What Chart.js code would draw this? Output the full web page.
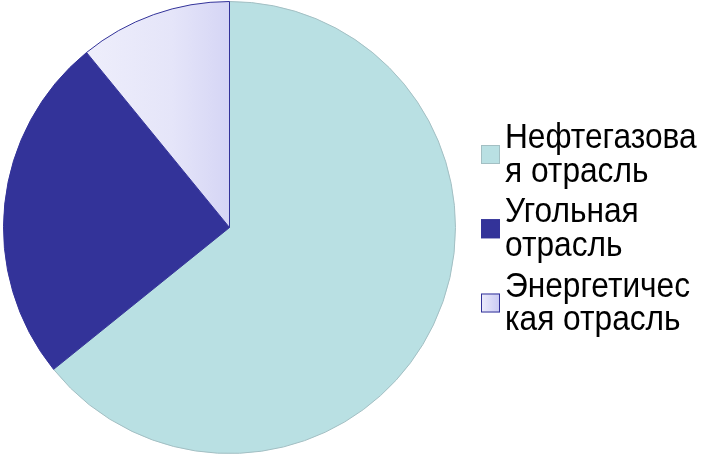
<!DOCTYPE html>
<html>
<head>
<meta charset="utf-8">
<script src="https://cdn.jsdelivr.net/npm/chart.js@4"></script>
<style>
  html, body { margin: 0; padding: 0; background: #fff; }
  #wrap { width: 704px; height: 454px; position: relative; }
</style>
</head>
<body>
<div id="wrap"><canvas id="pie"></canvas></div>
<script>
// sector labels (already wrapped as in the original legend)
const labels = [
  ['Нефтегазова', 'я отрасль'],
  ['Угольная', 'отрасль'],
  ['Энергетичес', 'кая отрасль'],
];
const shares = [64.2, 24.9, 10.9];
const fills = ['#b9e0e3', '#333399', '#e2e2f9'];
const edges = ['#a3bfc3', '#333399', '#333399'];

// lavender slice has a soft left-to-right gradient
function sliceFill(ctx) {
  const i = ctx.dataIndex;
  if (i !== 2) return fills[i];
  const area = ctx.chart.chartArea;
  if (!area) return fills[i];
  const g = ctx.chart.ctx.createLinearGradient(85, 0, 230, 0);
  g.addColorStop(0, '#eeeefb');
  g.addColorStop(0.6, '#e5e5f9');
  g.addColorStop(1, '#d5d5f5');
  return g;
}

const sideLegend = {
  id: 'sideLegend',
  afterDraw(chart) {
    const ctx = chart.ctx;
    const lineH = 33.5, itemH = 74.25, boxX = 481, box = 19, textX = 505;
    let base = 148;
    ctx.save();
    ctx.font = '35px "Liberation Sans", Arial, sans-serif';
    ctx.textBaseline = 'alphabetic';
    chart.data.labels.forEach((lines, i) => {
      const cy = base + 6.5;
      let f = fills[i];
      if (i === 2) {
        f = ctx.createLinearGradient(boxX, 0, boxX + box, 0);
        f.addColorStop(0, '#ececfb');
        f.addColorStop(1, '#c9c9f3');
      }
      ctx.fillStyle = f;
      ctx.fillRect(boxX, cy - box / 2, box, box);
      ctx.strokeStyle = edges[i];
      ctx.lineWidth = 1;
      ctx.strokeRect(boxX + 0.5, cy - box / 2 + 0.5, box - 1, box - 1);
      ctx.fillStyle = '#000';
      lines.forEach((t, k) => {
        ctx.save();
        ctx.translate(textX, base + lineH * k);
        ctx.scale(0.905, 1);
        ctx.fillText(t, 0, 0);
        ctx.restore();
      });
      base += itemH;
    });
    ctx.restore();
  },
};

new Chart(document.getElementById('pie'), {
  type: 'pie',
  data: {
    labels: labels,
    datasets: [{
      data: shares,
      backgroundColor: sliceFill,
      borderColor: edges,
      borderWidth: 1,
    }],
  },
  options: {
    responsive: true,
    maintainAspectRatio: false,
    animation: false,
    layout: { padding: { top: 1, bottom: 0, left: 3, right: 248 } },
    plugins: {
      legend: { display: false },
      tooltip: { enabled: false },
    },
  },
  plugins: [sideLegend],
});
</script>
</body>
</html>
